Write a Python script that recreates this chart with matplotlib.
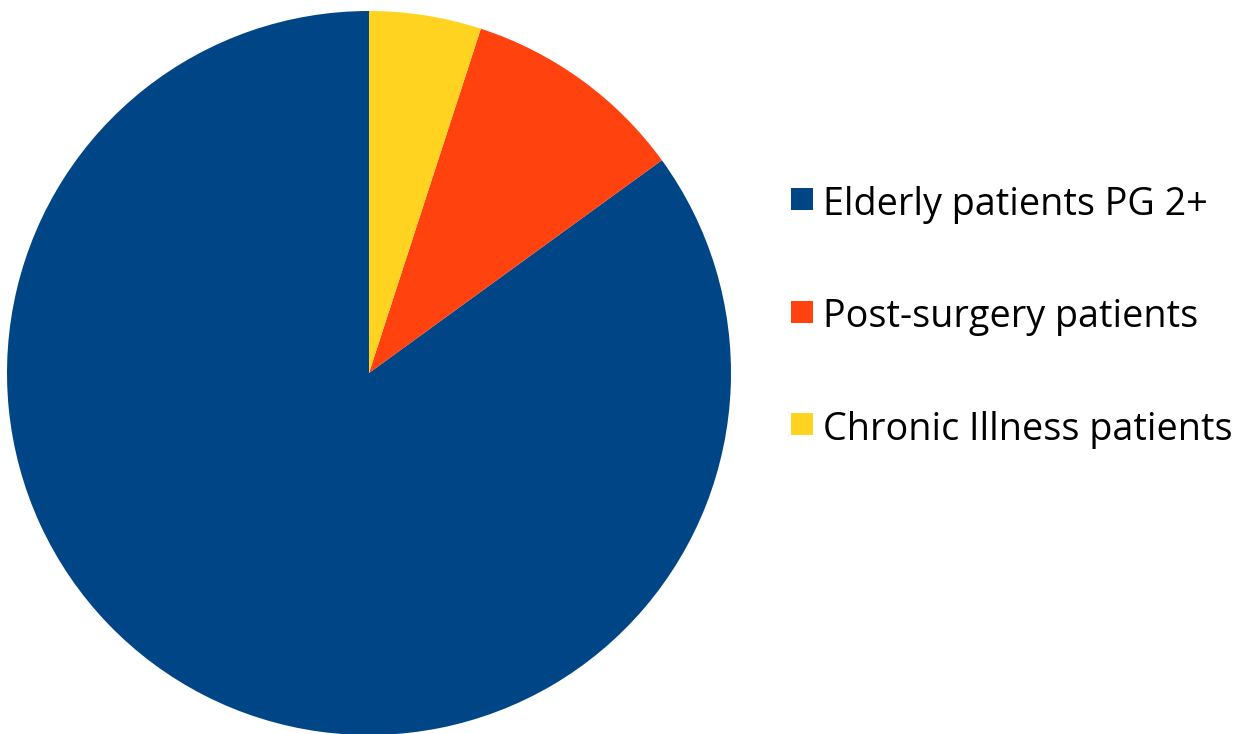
import matplotlib
matplotlib.use("Agg")
import matplotlib.pyplot as plt
from matplotlib.patches import Rectangle

categories = ["Elderly patients PG 2+", "Post-surgery patients", "Chronic Illness patients"]
shares = [85, 10, 5]
colors = ["#004586", "#ff420e", "#ffd320"]

W, H = 1243, 734
fig = plt.figure(figsize=(W / 100, H / 100), dpi=100)
fig.patch.set_facecolor("white")

# pie: center (369, 373) px from top-left, radius 362 px
cx, cy, r = 369, 373, 362
ax = fig.add_axes([(cx - r) / W, (H - cy - r) / H, 2 * r / W, 2 * r / H])
ax.pie(shares, colors=colors, startangle=90, counterclock=True,
       radius=1, wedgeprops=dict(linewidth=0))
ax.set_xlim(-1, 1)
ax.set_ylim(-1, 1)
ax.set_aspect("equal")
ax.axis("off")

# legend drawn as squares and labels
font = "Open Sans"
x_sq, sq = 791, 22
x_txt = 823
baseline0, step = 215, 112.5
for i, (lab, col) in enumerate(zip(categories, colors)):
    base = baseline0 + i * step
    sq_top = base - 27
    fig.patches.append(Rectangle((x_sq / W, (H - sq_top - sq) / H), sq / W, sq / H,
                                 transform=fig.transFigure, facecolor=col,
                                 edgecolor="none"))
    fig.text(x_txt / W, (H - base) / H, lab, fontsize=27.2, family=font,
             color="black", va="baseline", ha="left")

fig.savefig("out.png", dpi=100)
